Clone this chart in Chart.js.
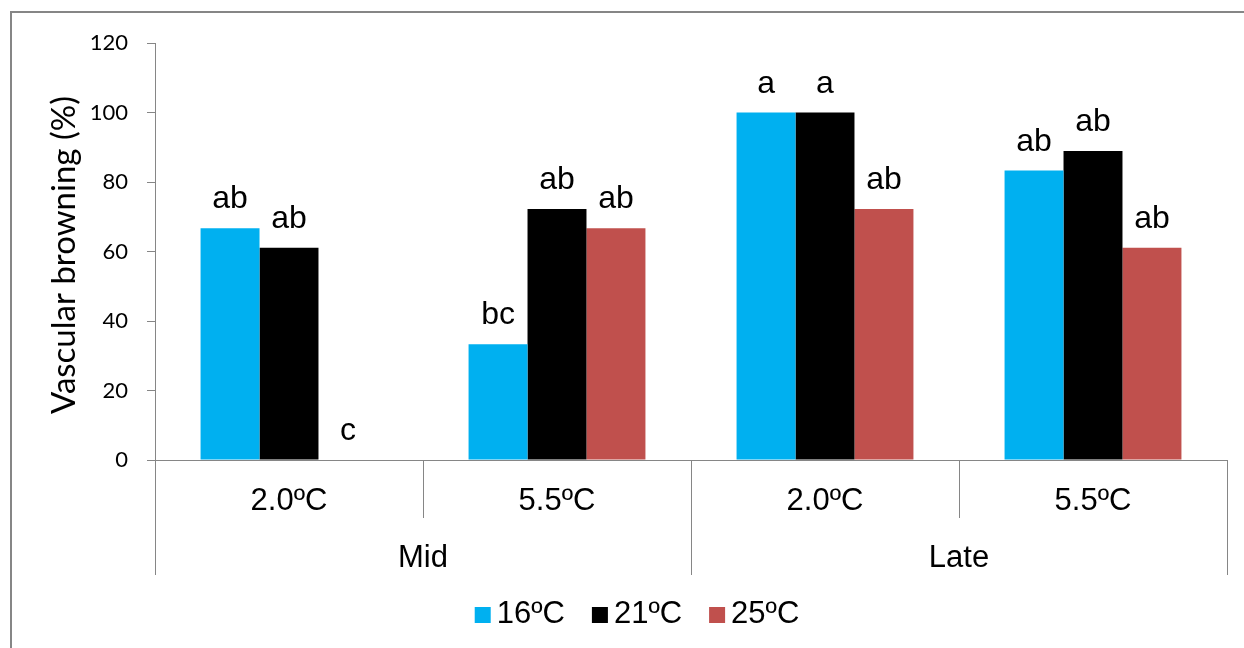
<!DOCTYPE html>
<html>
<head>
<meta charset="utf-8">
<script src="https://cdn.jsdelivr.net/npm/chart.js@4.4.0/dist/chart.umd.min.js"></script>
<style>
  body { margin: 0; background: #fff; }
  canvas { display: block; }
</style>
</head>
<body>
<canvas id="barChart" width="1244" height="648"></canvas>
<script>
const categories = ['2.0ºC', '5.5ºC', '2.0ºC', '5.5ºC'];
const groups = ['Mid', 'Late'];
const seriesNames = ['16ºC', '21ºC', '25ºC'];
const seriesColors = ['#00B0F0', '#000000', '#C0504D'];
const values16 = [66.7, 33.3, 100, 83.3];
const values21 = [61.1, 72.2, 100, 88.9];
const values25 = [0, 66.7, 72.2, 61.1];
const letters16 = ['ab', 'bc', 'a', 'ab'];
const letters21 = ['ab', 'ab', 'a', 'ab'];
const letters25 = ['c', 'ab', 'ab', 'ab'];
const yTitle = 'Vascular browning (%)';
const yMin = 0, yMax = 120, yStep = 20;

const axisGrey = '#868686';
const arial = '"Liberation Sans", Arial, sans-serif';

// draws the frame, y title, the two-level category axis, the letters and the legend
const extras = {
  id: 'extras',
  beforeDraw(chart) {
    const ctx = chart.ctx;
    ctx.save();
    ctx.strokeStyle = axisGrey;
    ctx.lineWidth = 2;
    ctx.strokeRect(11, 12, 1400, 800);
    ctx.restore();
  },
  afterDraw(chart) {
    const ctx = chart.ctx;
    const x = chart.scales.x;
    const area = chart.chartArea;
    const half = (x.getPixelForValue(1) - x.getPixelForValue(0)) / 2;
    ctx.save();

    // y axis title
    ctx.save();
    ctx.translate(75, 255);
    ctx.rotate(-Math.PI / 2);
    ctx.font = '33px Lato';
    ctx.fillStyle = '#000';
    ctx.textAlign = 'center';
    ctx.textBaseline = 'alphabetic';
    ctx.fillText(yTitle, 0, 0);
    ctx.restore();

    // separators below the axis
    ctx.strokeStyle = axisGrey;
    ctx.lineWidth = 1;
    for (let i = 0; i <= categories.length; i++) {
      const px = Math.round(x.getPixelForValue(i) - half) + 0.5;
      const len = (i % 2 === 0) ? 115 : 58;
      ctx.beginPath();
      ctx.moveTo(px, area.bottom);
      ctx.lineTo(px, area.bottom + len);
      ctx.stroke();
    }

    // category and group labels
    ctx.fillStyle = '#000';
    ctx.textAlign = 'center';
    ctx.textBaseline = 'alphabetic';
    ctx.font = '31px ' + arial;
    categories.forEach((c, i) => ctx.fillText(c, x.getPixelForValue(i), area.bottom + 50));
    groups.forEach((g, i) => {
      const cx = (x.getPixelForValue(2 * i) + x.getPixelForValue(2 * i + 1)) / 2;
      ctx.fillText(g, cx, area.bottom + 107);
    });

    // significance letters over the bars
    const letters = [letters16, letters21, letters25];
    ctx.font = '32px ' + arial;
    chart.data.datasets.forEach((ds, d) => {
      chart.getDatasetMeta(d).data.forEach((bar, i) => {
        ctx.fillText(letters[d][i], bar.x, bar.y - 20);
      });
    });

    // legend
    ctx.font = '31px ' + arial;
    ctx.textAlign = 'left';
    const box = 16, gap = 6, itemGap = 27;
    const widths = seriesNames.map(n => box + gap + ctx.measureText(n).width);
    const total = widths.reduce((a, b) => a + b, 0) + itemGap * (widths.length - 1);
    let lx = 637 - total / 2;
    const baseY = 623;
    seriesNames.forEach((n, i) => {
      ctx.fillStyle = seriesColors[i];
      ctx.fillRect(lx, baseY - 16, box, box);
      ctx.fillStyle = '#000';
      ctx.fillText(n, lx + box + gap, baseY);
      lx += widths[i] + itemGap;
    });
    ctx.restore();
  }
};

const ctx = document.getElementById('barChart').getContext('2d');

const data = {
  labels: categories,
  datasets: [
    { label: seriesNames[0], data: values16, backgroundColor: seriesColors[0] },
    { label: seriesNames[1], data: values21, backgroundColor: seriesColors[1] },
    { label: seriesNames[2], data: values25, backgroundColor: seriesColors[2] },
  ],
};

const config = {
  type: 'bar',
  data: data,
  options: {
    responsive: false,
    animation: false,
    devicePixelRatio: 1,
    datasets: {
      bar: { barPercentage: 1, categoryPercentage: 0.66, borderWidth: 0 },
    },
    layout: { padding: { left: 12, top: 43, right: 17, bottom: 0 } },
    plugins: {
      legend: { display: false },
      tooltip: { enabled: false },
    },
    scales: {
      x: {
        grid: { display: false, drawTicks: false },
        ticks: { display: false },
        border: { display: true, color: axisGrey, width: 1 },
        afterFit(scale) { scale.height = 188; },
      },
      y: {
        min: yMin,
        max: yMax,
        ticks: {
          stepSize: yStep,
          padding: 19,
          color: '#000',
          font: { family: 'Lato', size: 22 },
        },
        grid: { drawOnChartArea: false, drawTicks: true, tickLength: 8, color: axisGrey },
        border: { display: true, color: axisGrey, width: 1 },
        afterFit(scale) { scale.width = 143; },
      },
    },
  },
  plugins: [extras],
};

const myChart = new Chart(ctx, config);
</script>
</body>
</html>
